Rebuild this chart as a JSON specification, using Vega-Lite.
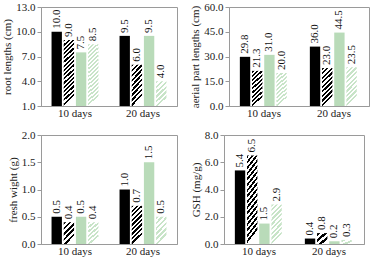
{
"$schema": "https://vega.github.io/schema/vega-lite/v6.json",
"padding": {"left": 1, "top": 0, "right": 0, "bottom": 0},
"background": "white",
"data": {"values": [
{"panel":"root","day":"10 days","series":"A","value":10.0},
{"panel":"root","day":"10 days","series":"B","value":9.0},
{"panel":"root","day":"10 days","series":"C","value":7.5},
{"panel":"root","day":"10 days","series":"D","value":8.5},
{"panel":"root","day":"20 days","series":"A","value":9.5},
{"panel":"root","day":"20 days","series":"B","value":6.0},
{"panel":"root","day":"20 days","series":"C","value":9.5},
{"panel":"root","day":"20 days","series":"D","value":4.0},
{"panel":"aerial","day":"10 days","series":"A","value":29.8},
{"panel":"aerial","day":"10 days","series":"B","value":21.3},
{"panel":"aerial","day":"10 days","series":"C","value":31.0},
{"panel":"aerial","day":"10 days","series":"D","value":20.0},
{"panel":"aerial","day":"20 days","series":"A","value":36.0},
{"panel":"aerial","day":"20 days","series":"B","value":23.0},
{"panel":"aerial","day":"20 days","series":"C","value":44.5},
{"panel":"aerial","day":"20 days","series":"D","value":23.5},
{"panel":"fresh","day":"10 days","series":"A","value":0.5},
{"panel":"fresh","day":"10 days","series":"B","value":0.4},
{"panel":"fresh","day":"10 days","series":"C","value":0.5},
{"panel":"fresh","day":"10 days","series":"D","value":0.4},
{"panel":"fresh","day":"20 days","series":"A","value":1.0},
{"panel":"fresh","day":"20 days","series":"B","value":0.7},
{"panel":"fresh","day":"20 days","series":"C","value":1.5},
{"panel":"fresh","day":"20 days","series":"D","value":0.5},
{"panel":"gsh","day":"10 days","series":"A","value":5.4},
{"panel":"gsh","day":"10 days","series":"B","value":6.5},
{"panel":"gsh","day":"10 days","series":"C","value":1.5},
{"panel":"gsh","day":"10 days","series":"D","value":2.9},
{"panel":"gsh","day":"20 days","series":"A","value":0.4},
{"panel":"gsh","day":"20 days","series":"B","value":0.8},
{"panel":"gsh","day":"20 days","series":"C","value":0.2},
{"panel":"gsh","day":"20 days","series":"D","value":0.3}
]},
"spacing": 9,
"vconcat": [
{"spacing": 11, "hconcat": [
{
"width": 136, "height": 99,
"transform": [{"filter": "datum.panel=='root'"}],
"encoding": {
"x": {"field":"day","type":"nominal","sort":["10 days","20 days"],"scale":{"paddingInner":0.31,"paddingOuter":0.155},"axis":{"title":null,"ticks":false,"labelAngle":0,"labelPadding":1}},
"xOffset": {"field":"series","type":"nominal","sort":["A","B","C","D"],"scale":{"paddingInner":0.15,"paddingOuter":0}},
"y": {"field":"value","type":"quantitative","scale":{"domain":[1,13],"nice":false,"zero":false},"axis":{"title":"root lengths (cm)","values":[1,4,7,10,13],"format":".1f"}}
},
"layer": [
{"mark":{"type":"bar"},"encoding":{"y2":{"datum":1},"fill":{
"condition":[
{"test":"datum.series=='B' && datum.value>7","value":{"gradient":"linear","x1":0,"y1":0,"x2":0.15,"y2":1,"stops":[{"offset":0,"color":"#000"},{"offset":0.03125,"color":"#000"},{"offset":0.03125,"color":"#fff"},{"offset":0.0625,"color":"#fff"},{"offset":0.0625,"color":"#000"},{"offset":0.09375,"color":"#000"},{"offset":0.09375,"color":"#fff"},{"offset":0.125,"color":"#fff"},{"offset":0.125,"color":"#000"},{"offset":0.15625,"color":"#000"},{"offset":0.15625,"color":"#fff"},{"offset":0.1875,"color":"#fff"},{"offset":0.1875,"color":"#000"},{"offset":0.21875,"color":"#000"},{"offset":0.21875,"color":"#fff"},{"offset":0.25,"color":"#fff"},{"offset":0.25,"color":"#000"},{"offset":0.28125,"color":"#000"},{"offset":0.28125,"color":"#fff"},{"offset":0.3125,"color":"#fff"},{"offset":0.3125,"color":"#000"},{"offset":0.34375,"color":"#000"},{"offset":0.34375,"color":"#fff"},{"offset":0.375,"color":"#fff"},{"offset":0.375,"color":"#000"},{"offset":0.40625,"color":"#000"},{"offset":0.40625,"color":"#fff"},{"offset":0.4375,"color":"#fff"},{"offset":0.4375,"color":"#000"},{"offset":0.46875,"color":"#000"},{"offset":0.46875,"color":"#fff"},{"offset":0.5,"color":"#fff"},{"offset":0.5,"color":"#000"},{"offset":0.53125,"color":"#000"},{"offset":0.53125,"color":"#fff"},{"offset":0.5625,"color":"#fff"},{"offset":0.5625,"color":"#000"},{"offset":0.59375,"color":"#000"},{"offset":0.59375,"color":"#fff"},{"offset":0.625,"color":"#fff"},{"offset":0.625,"color":"#000"},{"offset":0.65625,"color":"#000"},{"offset":0.65625,"color":"#fff"},{"offset":0.6875,"color":"#fff"},{"offset":0.6875,"color":"#000"},{"offset":0.71875,"color":"#000"},{"offset":0.71875,"color":"#fff"},{"offset":0.75,"color":"#fff"},{"offset":0.75,"color":"#000"},{"offset":0.78125,"color":"#000"},{"offset":0.78125,"color":"#fff"},{"offset":0.8125,"color":"#fff"},{"offset":0.8125,"color":"#000"},{"offset":0.84375,"color":"#000"},{"offset":0.84375,"color":"#fff"},{"offset":0.875,"color":"#fff"},{"offset":0.875,"color":"#000"},{"offset":0.90625,"color":"#000"},{"offset":0.90625,"color":"#fff"},{"offset":0.9375,"color":"#fff"},{"offset":0.9375,"color":"#000"},{"offset":0.96875,"color":"#000"},{"offset":0.96875,"color":"#fff"},{"offset":1,"color":"#fff"}]}},
{"test":"datum.series=='B'","value":{"gradient":"linear","x1":0,"y1":0,"x2":0.27,"y2":1,"stops":[{"offset":0,"color":"#000"},{"offset":0.0556,"color":"#000"},{"offset":0.0556,"color":"#fff"},{"offset":0.1111,"color":"#fff"},{"offset":0.1111,"color":"#000"},{"offset":0.1667,"color":"#000"},{"offset":0.1667,"color":"#fff"},{"offset":0.2222,"color":"#fff"},{"offset":0.2222,"color":"#000"},{"offset":0.2778,"color":"#000"},{"offset":0.2778,"color":"#fff"},{"offset":0.3333,"color":"#fff"},{"offset":0.3333,"color":"#000"},{"offset":0.3889,"color":"#000"},{"offset":0.3889,"color":"#fff"},{"offset":0.4444,"color":"#fff"},{"offset":0.4444,"color":"#000"},{"offset":0.5,"color":"#000"},{"offset":0.5,"color":"#fff"},{"offset":0.5556,"color":"#fff"},{"offset":0.5556,"color":"#000"},{"offset":0.6111,"color":"#000"},{"offset":0.6111,"color":"#fff"},{"offset":0.6667,"color":"#fff"},{"offset":0.6667,"color":"#000"},{"offset":0.7222,"color":"#000"},{"offset":0.7222,"color":"#fff"},{"offset":0.7778,"color":"#fff"},{"offset":0.7778,"color":"#000"},{"offset":0.8333,"color":"#000"},{"offset":0.8333,"color":"#fff"},{"offset":0.8889,"color":"#fff"},{"offset":0.8889,"color":"#000"},{"offset":0.9444,"color":"#000"},{"offset":0.9444,"color":"#fff"},{"offset":1,"color":"#fff"}]}},
{"test":"datum.series=='D' && datum.value>6","value":{"gradient":"linear","x1":0,"y1":0,"x2":0.15,"y2":1,"stops":[{"offset":0,"color":"#c8e4c8"},{"offset":0.03125,"color":"#c8e4c8"},{"offset":0.03125,"color":"#fff"},{"offset":0.0625,"color":"#fff"},{"offset":0.0625,"color":"#c8e4c8"},{"offset":0.09375,"color":"#c8e4c8"},{"offset":0.09375,"color":"#fff"},{"offset":0.125,"color":"#fff"},{"offset":0.125,"color":"#c8e4c8"},{"offset":0.15625,"color":"#c8e4c8"},{"offset":0.15625,"color":"#fff"},{"offset":0.1875,"color":"#fff"},{"offset":0.1875,"color":"#c8e4c8"},{"offset":0.21875,"color":"#c8e4c8"},{"offset":0.21875,"color":"#fff"},{"offset":0.25,"color":"#fff"},{"offset":0.25,"color":"#c8e4c8"},{"offset":0.28125,"color":"#c8e4c8"},{"offset":0.28125,"color":"#fff"},{"offset":0.3125,"color":"#fff"},{"offset":0.3125,"color":"#c8e4c8"},{"offset":0.34375,"color":"#c8e4c8"},{"offset":0.34375,"color":"#fff"},{"offset":0.375,"color":"#fff"},{"offset":0.375,"color":"#c8e4c8"},{"offset":0.40625,"color":"#c8e4c8"},{"offset":0.40625,"color":"#fff"},{"offset":0.4375,"color":"#fff"},{"offset":0.4375,"color":"#c8e4c8"},{"offset":0.46875,"color":"#c8e4c8"},{"offset":0.46875,"color":"#fff"},{"offset":0.5,"color":"#fff"},{"offset":0.5,"color":"#c8e4c8"},{"offset":0.53125,"color":"#c8e4c8"},{"offset":0.53125,"color":"#fff"},{"offset":0.5625,"color":"#fff"},{"offset":0.5625,"color":"#c8e4c8"},{"offset":0.59375,"color":"#c8e4c8"},{"offset":0.59375,"color":"#fff"},{"offset":0.625,"color":"#fff"},{"offset":0.625,"color":"#c8e4c8"},{"offset":0.65625,"color":"#c8e4c8"},{"offset":0.65625,"color":"#fff"},{"offset":0.6875,"color":"#fff"},{"offset":0.6875,"color":"#c8e4c8"},{"offset":0.71875,"color":"#c8e4c8"},{"offset":0.71875,"color":"#fff"},{"offset":0.75,"color":"#fff"},{"offset":0.75,"color":"#c8e4c8"},{"offset":0.78125,"color":"#c8e4c8"},{"offset":0.78125,"color":"#fff"},{"offset":0.8125,"color":"#fff"},{"offset":0.8125,"color":"#c8e4c8"},{"offset":0.84375,"color":"#c8e4c8"},{"offset":0.84375,"color":"#fff"},{"offset":0.875,"color":"#fff"},{"offset":0.875,"color":"#c8e4c8"},{"offset":0.90625,"color":"#c8e4c8"},{"offset":0.90625,"color":"#fff"},{"offset":0.9375,"color":"#fff"},{"offset":0.9375,"color":"#c8e4c8"},{"offset":0.96875,"color":"#c8e4c8"},{"offset":0.96875,"color":"#fff"},{"offset":1,"color":"#fff"}]}},
{"test":"datum.series=='D'","value":{"gradient":"linear","x1":0,"y1":0,"x2":0.4,"y2":1,"stops":[{"offset":0,"color":"#c8e4c8"},{"offset":0.0833,"color":"#c8e4c8"},{"offset":0.0833,"color":"#fff"},{"offset":0.1667,"color":"#fff"},{"offset":0.1667,"color":"#c8e4c8"},{"offset":0.25,"color":"#c8e4c8"},{"offset":0.25,"color":"#fff"},{"offset":0.3333,"color":"#fff"},{"offset":0.3333,"color":"#c8e4c8"},{"offset":0.4167,"color":"#c8e4c8"},{"offset":0.4167,"color":"#fff"},{"offset":0.5,"color":"#fff"},{"offset":0.5,"color":"#c8e4c8"},{"offset":0.5833,"color":"#c8e4c8"},{"offset":0.5833,"color":"#fff"},{"offset":0.6667,"color":"#fff"},{"offset":0.6667,"color":"#c8e4c8"},{"offset":0.75,"color":"#c8e4c8"},{"offset":0.75,"color":"#fff"},{"offset":0.8333,"color":"#fff"},{"offset":0.8333,"color":"#c8e4c8"},{"offset":0.9167,"color":"#c8e4c8"},{"offset":0.9167,"color":"#fff"},{"offset":1,"color":"#fff"}]}}
],
"field":"series","type":"nominal","scale":{"domain":["A","B","C","D"],"range":["#000000","#000000","#b9dbb9","#c8e4c8"]},"legend":null}}},
{"mark":{"type":"text","angle":270,"align":"left","baseline":"middle","dx":3,"font":"Liberation Serif","fontSize":11,"color":"#111"},"encoding":{"text":{"field":"value","type":"quantitative","format":".1f"}}}
]
},
{
"width": 140, "height": 99,
"transform": [{"filter": "datum.panel=='aerial'"}],
"encoding": {
"x": {"field":"day","type":"nominal","sort":["10 days","20 days"],"scale":{"paddingInner":0.31,"paddingOuter":0.155},"axis":{"title":null,"ticks":false,"labelAngle":0,"labelPadding":1}},
"xOffset": {"field":"series","type":"nominal","sort":["A","B","C","D"],"scale":{"paddingInner":0.15,"paddingOuter":0}},
"y": {"field":"value","type":"quantitative","scale":{"domain":[0,60],"nice":false},"axis":{"title":"aerial part lengths (cm)","values":[0,15,30,45,60],"format":".1f"}}
},
"layer": [
{"mark":{"type":"bar"},"encoding":{"fill":{
"condition":[
{"test":"datum.series=='B'","value":{"gradient":"linear","x1":0,"y1":0,"x2":0.27,"y2":1,"stops":[{"offset":0,"color":"#000"},{"offset":0.0556,"color":"#000"},{"offset":0.0556,"color":"#fff"},{"offset":0.1111,"color":"#fff"},{"offset":0.1111,"color":"#000"},{"offset":0.1667,"color":"#000"},{"offset":0.1667,"color":"#fff"},{"offset":0.2222,"color":"#fff"},{"offset":0.2222,"color":"#000"},{"offset":0.2778,"color":"#000"},{"offset":0.2778,"color":"#fff"},{"offset":0.3333,"color":"#fff"},{"offset":0.3333,"color":"#000"},{"offset":0.3889,"color":"#000"},{"offset":0.3889,"color":"#fff"},{"offset":0.4444,"color":"#fff"},{"offset":0.4444,"color":"#000"},{"offset":0.5,"color":"#000"},{"offset":0.5,"color":"#fff"},{"offset":0.5556,"color":"#fff"},{"offset":0.5556,"color":"#000"},{"offset":0.6111,"color":"#000"},{"offset":0.6111,"color":"#fff"},{"offset":0.6667,"color":"#fff"},{"offset":0.6667,"color":"#000"},{"offset":0.7222,"color":"#000"},{"offset":0.7222,"color":"#fff"},{"offset":0.7778,"color":"#fff"},{"offset":0.7778,"color":"#000"},{"offset":0.8333,"color":"#000"},{"offset":0.8333,"color":"#fff"},{"offset":0.8889,"color":"#fff"},{"offset":0.8889,"color":"#000"},{"offset":0.9444,"color":"#000"},{"offset":0.9444,"color":"#fff"},{"offset":1,"color":"#fff"}]}},
{"test":"datum.series=='D'","value":{"gradient":"linear","x1":0,"y1":0,"x2":0.27,"y2":1,"stops":[{"offset":0,"color":"#c8e4c8"},{"offset":0.0556,"color":"#c8e4c8"},{"offset":0.0556,"color":"#fff"},{"offset":0.1111,"color":"#fff"},{"offset":0.1111,"color":"#c8e4c8"},{"offset":0.1667,"color":"#c8e4c8"},{"offset":0.1667,"color":"#fff"},{"offset":0.2222,"color":"#fff"},{"offset":0.2222,"color":"#c8e4c8"},{"offset":0.2778,"color":"#c8e4c8"},{"offset":0.2778,"color":"#fff"},{"offset":0.3333,"color":"#fff"},{"offset":0.3333,"color":"#c8e4c8"},{"offset":0.3889,"color":"#c8e4c8"},{"offset":0.3889,"color":"#fff"},{"offset":0.4444,"color":"#fff"},{"offset":0.4444,"color":"#c8e4c8"},{"offset":0.5,"color":"#c8e4c8"},{"offset":0.5,"color":"#fff"},{"offset":0.5556,"color":"#fff"},{"offset":0.5556,"color":"#c8e4c8"},{"offset":0.6111,"color":"#c8e4c8"},{"offset":0.6111,"color":"#fff"},{"offset":0.6667,"color":"#fff"},{"offset":0.6667,"color":"#c8e4c8"},{"offset":0.7222,"color":"#c8e4c8"},{"offset":0.7222,"color":"#fff"},{"offset":0.7778,"color":"#fff"},{"offset":0.7778,"color":"#c8e4c8"},{"offset":0.8333,"color":"#c8e4c8"},{"offset":0.8333,"color":"#fff"},{"offset":0.8889,"color":"#fff"},{"offset":0.8889,"color":"#c8e4c8"},{"offset":0.9444,"color":"#c8e4c8"},{"offset":0.9444,"color":"#fff"},{"offset":1,"color":"#fff"}]}}
],
"field":"series","type":"nominal","scale":{"domain":["A","B","C","D"],"range":["#000000","#000000","#b9dbb9","#c8e4c8"]},"legend":null}}},
{"mark":{"type":"text","angle":270,"align":"left","baseline":"middle","dx":3,"font":"Liberation Serif","fontSize":11,"color":"#111"},"encoding":{"text":{"field":"value","type":"quantitative","format":".1f"}}}
]
}
]},
{"spacing": 11, "hconcat": [
{
"width": 136, "height": 109,
"transform": [{"filter": "datum.panel=='fresh'"}],
"encoding": {
"x": {"field":"day","type":"nominal","sort":["10 days","20 days"],"scale":{"paddingInner":0.31,"paddingOuter":0.155},"axis":{"title":null,"ticks":false,"labelAngle":0,"labelPadding":1}},
"xOffset": {"field":"series","type":"nominal","sort":["A","B","C","D"],"scale":{"paddingInner":0.15,"paddingOuter":0}},
"y": {"field":"value","type":"quantitative","scale":{"domain":[0,2],"nice":false},"axis":{"title":"fresh wight  (g)","values":[0,0.5,1,1.5,2],"format":".1f"}}
},
"layer": [
{"mark":{"type":"bar"},"encoding":{"fill":{
"condition":[
{"test":"datum.series=='B' && datum.value>0.55","value":{"gradient":"linear","x1":0,"y1":0,"x2":0.27,"y2":1,"stops":[{"offset":0,"color":"#000"},{"offset":0.0556,"color":"#000"},{"offset":0.0556,"color":"#fff"},{"offset":0.1111,"color":"#fff"},{"offset":0.1111,"color":"#000"},{"offset":0.1667,"color":"#000"},{"offset":0.1667,"color":"#fff"},{"offset":0.2222,"color":"#fff"},{"offset":0.2222,"color":"#000"},{"offset":0.2778,"color":"#000"},{"offset":0.2778,"color":"#fff"},{"offset":0.3333,"color":"#fff"},{"offset":0.3333,"color":"#000"},{"offset":0.3889,"color":"#000"},{"offset":0.3889,"color":"#fff"},{"offset":0.4444,"color":"#fff"},{"offset":0.4444,"color":"#000"},{"offset":0.5,"color":"#000"},{"offset":0.5,"color":"#fff"},{"offset":0.5556,"color":"#fff"},{"offset":0.5556,"color":"#000"},{"offset":0.6111,"color":"#000"},{"offset":0.6111,"color":"#fff"},{"offset":0.6667,"color":"#fff"},{"offset":0.6667,"color":"#000"},{"offset":0.7222,"color":"#000"},{"offset":0.7222,"color":"#fff"},{"offset":0.7778,"color":"#fff"},{"offset":0.7778,"color":"#000"},{"offset":0.8333,"color":"#000"},{"offset":0.8333,"color":"#fff"},{"offset":0.8889,"color":"#fff"},{"offset":0.8889,"color":"#000"},{"offset":0.9444,"color":"#000"},{"offset":0.9444,"color":"#fff"},{"offset":1,"color":"#fff"}]}},
{"test":"datum.series=='B'","value":{"gradient":"linear","x1":0,"y1":0,"x2":0.48,"y2":1,"stops":[{"offset":0,"color":"#000"},{"offset":0.1,"color":"#000"},{"offset":0.1,"color":"#fff"},{"offset":0.2,"color":"#fff"},{"offset":0.2,"color":"#000"},{"offset":0.3,"color":"#000"},{"offset":0.3,"color":"#fff"},{"offset":0.4,"color":"#fff"},{"offset":0.4,"color":"#000"},{"offset":0.5,"color":"#000"},{"offset":0.5,"color":"#fff"},{"offset":0.6,"color":"#fff"},{"offset":0.6,"color":"#000"},{"offset":0.7,"color":"#000"},{"offset":0.7,"color":"#fff"},{"offset":0.8,"color":"#fff"},{"offset":0.8,"color":"#000"},{"offset":0.9,"color":"#000"},{"offset":0.9,"color":"#fff"},{"offset":1,"color":"#fff"}]}},
{"test":"datum.series=='D'","value":{"gradient":"linear","x1":0,"y1":0,"x2":0.4,"y2":1,"stops":[{"offset":0,"color":"#c8e4c8"},{"offset":0.0833,"color":"#c8e4c8"},{"offset":0.0833,"color":"#fff"},{"offset":0.1667,"color":"#fff"},{"offset":0.1667,"color":"#c8e4c8"},{"offset":0.25,"color":"#c8e4c8"},{"offset":0.25,"color":"#fff"},{"offset":0.3333,"color":"#fff"},{"offset":0.3333,"color":"#c8e4c8"},{"offset":0.4167,"color":"#c8e4c8"},{"offset":0.4167,"color":"#fff"},{"offset":0.5,"color":"#fff"},{"offset":0.5,"color":"#c8e4c8"},{"offset":0.5833,"color":"#c8e4c8"},{"offset":0.5833,"color":"#fff"},{"offset":0.6667,"color":"#fff"},{"offset":0.6667,"color":"#c8e4c8"},{"offset":0.75,"color":"#c8e4c8"},{"offset":0.75,"color":"#fff"},{"offset":0.8333,"color":"#fff"},{"offset":0.8333,"color":"#c8e4c8"},{"offset":0.9167,"color":"#c8e4c8"},{"offset":0.9167,"color":"#fff"},{"offset":1,"color":"#fff"}]}}
],
"field":"series","type":"nominal","scale":{"domain":["A","B","C","D"],"range":["#000000","#000000","#b9dbb9","#c8e4c8"]},"legend":null}}},
{"mark":{"type":"text","angle":270,"align":"left","baseline":"middle","dx":3,"font":"Liberation Serif","fontSize":11,"color":"#111"},"encoding":{"text":{"field":"value","type":"quantitative","format":".1f"}}}
]
},
{
"width": 140, "height": 109,
"transform": [{"filter": "datum.panel=='gsh'"}],
"encoding": {
"x": {"field":"day","type":"nominal","sort":["10 days","20 days"],"scale":{"paddingInner":0.31,"paddingOuter":0.155},"axis":{"title":null,"ticks":false,"labelAngle":0,"labelPadding":1}},
"xOffset": {"field":"series","type":"nominal","sort":["A","B","C","D"],"scale":{"paddingInner":0.15,"paddingOuter":0}},
"y": {"field":"value","type":"quantitative","scale":{"domain":[0,8],"nice":false},"axis":{"title":"GSH (mg/g)","values":[0,2,4,6,8],"format":".1f"}}
},
"layer": [
{"mark":{"type":"bar"},"encoding":{"fill":{
"condition":[
{"test":"datum.series=='B' && datum.value>3","value":{"gradient":"linear","x1":0,"y1":0,"x2":0.15,"y2":1,"stops":[{"offset":0,"color":"#000"},{"offset":0.03125,"color":"#000"},{"offset":0.03125,"color":"#fff"},{"offset":0.0625,"color":"#fff"},{"offset":0.0625,"color":"#000"},{"offset":0.09375,"color":"#000"},{"offset":0.09375,"color":"#fff"},{"offset":0.125,"color":"#fff"},{"offset":0.125,"color":"#000"},{"offset":0.15625,"color":"#000"},{"offset":0.15625,"color":"#fff"},{"offset":0.1875,"color":"#fff"},{"offset":0.1875,"color":"#000"},{"offset":0.21875,"color":"#000"},{"offset":0.21875,"color":"#fff"},{"offset":0.25,"color":"#fff"},{"offset":0.25,"color":"#000"},{"offset":0.28125,"color":"#000"},{"offset":0.28125,"color":"#fff"},{"offset":0.3125,"color":"#fff"},{"offset":0.3125,"color":"#000"},{"offset":0.34375,"color":"#000"},{"offset":0.34375,"color":"#fff"},{"offset":0.375,"color":"#fff"},{"offset":0.375,"color":"#000"},{"offset":0.40625,"color":"#000"},{"offset":0.40625,"color":"#fff"},{"offset":0.4375,"color":"#fff"},{"offset":0.4375,"color":"#000"},{"offset":0.46875,"color":"#000"},{"offset":0.46875,"color":"#fff"},{"offset":0.5,"color":"#fff"},{"offset":0.5,"color":"#000"},{"offset":0.53125,"color":"#000"},{"offset":0.53125,"color":"#fff"},{"offset":0.5625,"color":"#fff"},{"offset":0.5625,"color":"#000"},{"offset":0.59375,"color":"#000"},{"offset":0.59375,"color":"#fff"},{"offset":0.625,"color":"#fff"},{"offset":0.625,"color":"#000"},{"offset":0.65625,"color":"#000"},{"offset":0.65625,"color":"#fff"},{"offset":0.6875,"color":"#fff"},{"offset":0.6875,"color":"#000"},{"offset":0.71875,"color":"#000"},{"offset":0.71875,"color":"#fff"},{"offset":0.75,"color":"#fff"},{"offset":0.75,"color":"#000"},{"offset":0.78125,"color":"#000"},{"offset":0.78125,"color":"#fff"},{"offset":0.8125,"color":"#fff"},{"offset":0.8125,"color":"#000"},{"offset":0.84375,"color":"#000"},{"offset":0.84375,"color":"#fff"},{"offset":0.875,"color":"#fff"},{"offset":0.875,"color":"#000"},{"offset":0.90625,"color":"#000"},{"offset":0.90625,"color":"#fff"},{"offset":0.9375,"color":"#fff"},{"offset":0.9375,"color":"#000"},{"offset":0.96875,"color":"#000"},{"offset":0.96875,"color":"#fff"},{"offset":1,"color":"#fff"}]}},
{"test":"datum.series=='B'","value":{"gradient":"linear","x1":0,"y1":0,"x2":0.8,"y2":1,"stops":[{"offset":0,"color":"#000"},{"offset":0.1667,"color":"#000"},{"offset":0.1667,"color":"#fff"},{"offset":0.3333,"color":"#fff"},{"offset":0.3333,"color":"#000"},{"offset":0.5,"color":"#000"},{"offset":0.5,"color":"#fff"},{"offset":0.6667,"color":"#fff"},{"offset":0.6667,"color":"#000"},{"offset":0.8333,"color":"#000"},{"offset":0.8333,"color":"#fff"},{"offset":1,"color":"#fff"}]}},
{"test":"datum.series=='D' && datum.value>1","value":{"gradient":"linear","x1":0,"y1":0,"x2":0.27,"y2":1,"stops":[{"offset":0,"color":"#c8e4c8"},{"offset":0.0556,"color":"#c8e4c8"},{"offset":0.0556,"color":"#fff"},{"offset":0.1111,"color":"#fff"},{"offset":0.1111,"color":"#c8e4c8"},{"offset":0.1667,"color":"#c8e4c8"},{"offset":0.1667,"color":"#fff"},{"offset":0.2222,"color":"#fff"},{"offset":0.2222,"color":"#c8e4c8"},{"offset":0.2778,"color":"#c8e4c8"},{"offset":0.2778,"color":"#fff"},{"offset":0.3333,"color":"#fff"},{"offset":0.3333,"color":"#c8e4c8"},{"offset":0.3889,"color":"#c8e4c8"},{"offset":0.3889,"color":"#fff"},{"offset":0.4444,"color":"#fff"},{"offset":0.4444,"color":"#c8e4c8"},{"offset":0.5,"color":"#c8e4c8"},{"offset":0.5,"color":"#fff"},{"offset":0.5556,"color":"#fff"},{"offset":0.5556,"color":"#c8e4c8"},{"offset":0.6111,"color":"#c8e4c8"},{"offset":0.6111,"color":"#fff"},{"offset":0.6667,"color":"#fff"},{"offset":0.6667,"color":"#c8e4c8"},{"offset":0.7222,"color":"#c8e4c8"},{"offset":0.7222,"color":"#fff"},{"offset":0.7778,"color":"#fff"},{"offset":0.7778,"color":"#c8e4c8"},{"offset":0.8333,"color":"#c8e4c8"},{"offset":0.8333,"color":"#fff"},{"offset":0.8889,"color":"#fff"},{"offset":0.8889,"color":"#c8e4c8"},{"offset":0.9444,"color":"#c8e4c8"},{"offset":0.9444,"color":"#fff"},{"offset":1,"color":"#fff"}]}},
{"test":"datum.series=='D'","value":{"gradient":"linear","x1":0,"y1":0,"x2":1,"y2":1,"stops":[{"offset":0,"color":"#c8e4c8"},{"offset":0.25,"color":"#c8e4c8"},{"offset":0.25,"color":"#fff"},{"offset":0.5,"color":"#fff"},{"offset":0.5,"color":"#c8e4c8"},{"offset":0.75,"color":"#c8e4c8"},{"offset":0.75,"color":"#fff"},{"offset":1,"color":"#fff"}]}}
],
"field":"series","type":"nominal","scale":{"domain":["A","B","C","D"],"range":["#000000","#000000","#b9dbb9","#c8e4c8"]},"legend":null}}},
{"mark":{"type":"text","angle":270,"align":"left","baseline":"middle","dx":3,"font":"Liberation Serif","fontSize":11,"color":"#111"},"encoding":{"text":{"field":"value","type":"quantitative","format":".1f"}}}
]
}
]}
],
"config": {
"view": {"stroke": "#9a9a9a"},
"axis": {"domainColor": "#9a9a9a", "tickColor": "#9a9a9a", "grid": false, "labelFont": "Liberation Serif", "titleFont": "Liberation Serif", "labelFontSize": 11, "titleFontSize": 11, "titleFontWeight": "normal", "labelColor": "#222", "titleColor": "#222", "labelFlush": false},
"axisY": {"tickSize": 4, "labelPadding": 2, "titlePadding": 3}
}
}
